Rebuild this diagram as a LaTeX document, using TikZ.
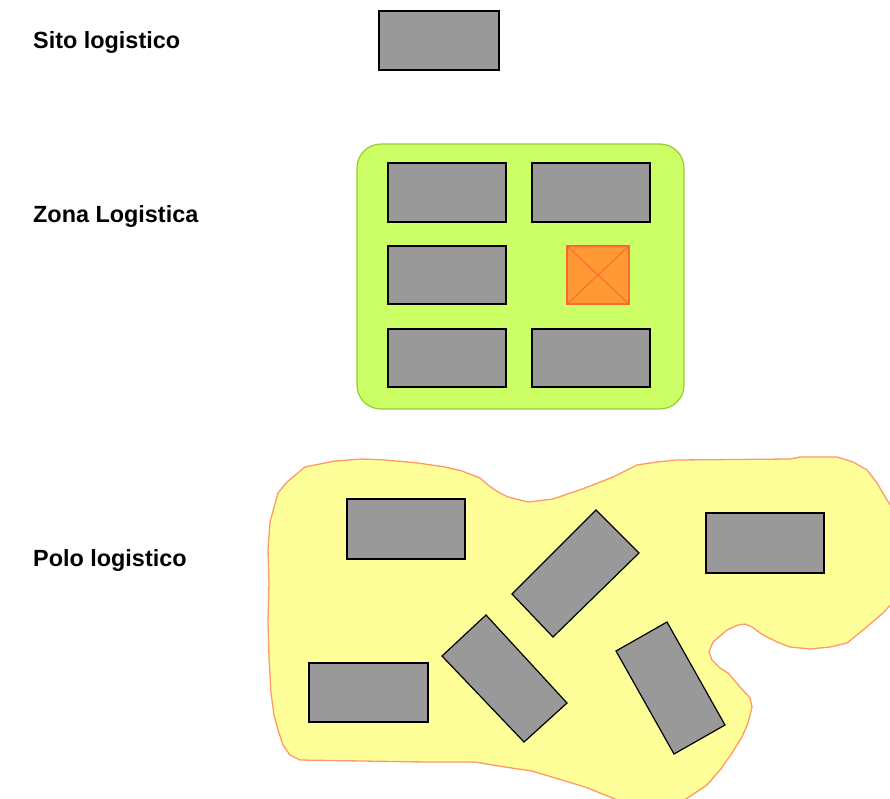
\documentclass[tikz,border=0pt]{standalone}
\usepackage{fontspec}
\setmainfont{Liberation Sans}
\definecolor{bgray}{HTML}{999999}
\definecolor{zonefill}{HTML}{CCFF66}
\definecolor{zoneline}{HTML}{99CC33}
\definecolor{orfill}{HTML}{FF9933}
\definecolor{orline}{HTML}{FF6633}
\definecolor{polofill}{HTML}{FFFF99}
\definecolor{pololine}{HTML}{FF9966}
\tikzset{
  bldg/.style={fill=bgray, draw=black, line width=1.2pt, line join=miter},
  zone/.style={fill=zonefill, draw=zoneline, line width=1.2pt, rounded corners=24pt},
  polo/.style={fill=polofill, draw=pololine, line width=1.3pt, line join=round},
  orange/.style={fill=orfill, draw=orline, line width=1.3pt},
  lbl/.style={anchor=base west, inner sep=0pt, font=\bfseries\fontsize{23.4}{27}\selectfont}
}
\begin{document}
\begin{tikzpicture}[x=1pt,y=-1pt]
\useasboundingbox (0,0) rectangle (890,798);
\fill[white] (0,0) rectangle (890,798);

% labels
\node[lbl] (l1) at (33,48) {Sito logistico};
\node[lbl] (l2) at (33,222) {Zona Logistica};
\node[lbl] (l3) at (33,566) {Polo logistico};

% sito
\draw[bldg] (379,11) rectangle (499,70);

% zona
\draw[zone] (357,144) rectangle (684,409);
\draw[bldg] (388,163) rectangle (506,222);
\draw[bldg] (532,163) rectangle (650,222);
\draw[bldg] (388,246) rectangle (506,304);
\draw[bldg] (388,329) rectangle (506,387);
\draw[bldg] (532,329) rectangle (650,387);
\draw[orange] (567,246) rectangle (629,304);
\draw[orline, line width=1pt] (567,246) -- (629,304) (629,246) -- (567,304);

% polo
\begin{scope}
\clip (0,0) rectangle (890,798);
\draw[polo] (305,467) -- (335,461) -- (362,459) -- (385,460) -- (418,463) -- (445,467)
 -- (462,471) -- (480,478) -- (488,485) -- (498,492) -- (508,497) -- (528,502)
 -- (553,499) -- (585,488) -- (613,477) -- (637,465) -- (657,462) -- (677,460)
 -- (790,459) -- (800,457) -- (837,457) -- (853,462) -- (867,470) -- (877,483)
 -- (887,500) -- (895,512) -- (895,600) -- (883,613) -- (863,630) -- (847,643)
 -- (830,647) -- (810,649) -- (790,647) -- (777,642) -- (763,635) -- (752,627)
 -- (745,624) -- (738,625) -- (727,630) -- (713,642) -- (709,652) -- (712,660)
 -- (720,668) -- (728,673) -- (740,687) -- (750,698) -- (752,707) -- (748,723)
 -- (742,737) -- (732,753) -- (720,770) -- (707,785) -- (695,793) -- (680,803)
 -- (625,803) -- (585,787) -- (532,771) -- (505,767) -- (475,762) -- (425,762)
 -- (300,760) -- (290,755) -- (283,745) -- (278,730) -- (274,715) -- (271,693)
 -- (269,657) -- (268,623) -- (269,583) -- (268,550) -- (270,522) -- (278,493)
 -- (287,482) -- cycle;
\end{scope}
\draw[bldg] (347,499) rectangle (465,559);
\draw[bldg] (706,513) rectangle (824,573);
\draw[bldg] (309,663) rectangle (428,722);
\draw[bldg] (596,510) -- (639,553) -- (553,637) -- (512,594) -- cycle;
\draw[bldg] (486,615) -- (567,703) -- (524,742) -- (442,656) -- cycle;
\draw[bldg] (667,622) -- (725,725) -- (674,754) -- (616,651) -- cycle;
\end{tikzpicture}
\end{document}
